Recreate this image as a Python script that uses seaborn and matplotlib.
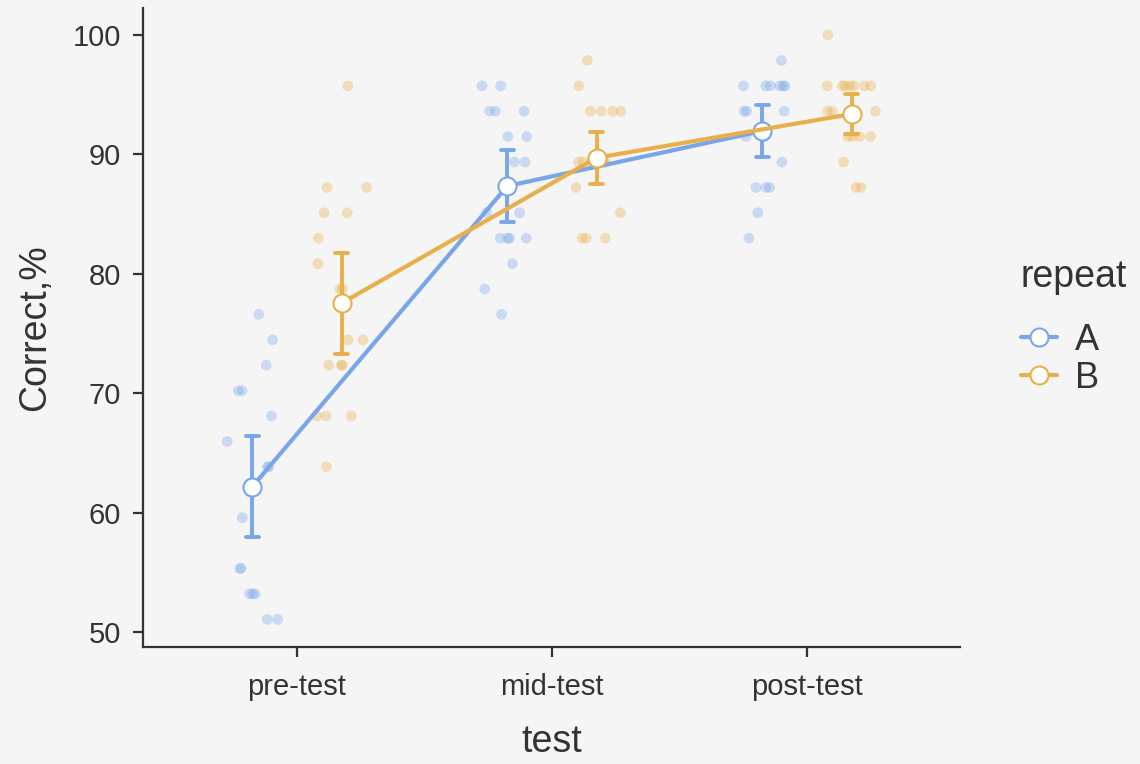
import numpy as np
import pandas as pd
import matplotlib
matplotlib.use('Agg')
import matplotlib.pyplot as plt
from matplotlib.lines import Line2D
import seaborn as sns

tests = ['pre-test', 'mid-test', 'post-test']
repeats = ['A', 'B']

# scores (k/47 items, in %)
pre_a = [76.60, 74.47, 72.34, 70.21, 70.21, 68.09, 65.96, 63.83, 63.83,
         61.70, 59.57, 55.32, 55.32, 53.19, 53.19, 53.19, 51.06, 51.06]
pre_b = [95.74, 87.23, 87.23, 85.11, 85.11, 82.98, 80.85, 78.72, 78.72,
         74.47, 74.47, 72.34, 72.34, 72.34, 68.09, 68.09, 68.09, 63.83]
mid_a = [95.74, 95.74, 93.62, 93.62, 93.62, 91.49, 91.49, 89.36, 89.36,
         85.11, 85.11, 82.98, 82.98, 82.98, 82.98, 80.85, 78.72, 76.60]
mid_b = [97.87, 95.74, 93.62, 93.62, 93.62, 93.62, 89.36, 89.36, 89.36,
         89.36, 89.36, 89.36, 89.36, 87.23, 85.11, 82.98, 82.98, 82.98]
post_a = [97.87, 95.74, 95.74, 95.74, 95.74, 95.74, 95.74, 93.62, 93.62,
          93.62, 91.49, 91.49, 89.36, 87.23, 87.23, 87.23, 85.11, 82.98]
post_b = [100.0, 95.74, 95.74, 95.74, 95.74, 95.74, 95.74, 95.74, 93.62,
          93.62, 93.62, 91.49, 91.49, 91.49, 91.49, 89.36, 87.23, 87.23]

groups = [('pre-test', 'A', pre_a), ('pre-test', 'B', pre_b),
          ('mid-test', 'A', mid_a), ('mid-test', 'B', mid_b),
          ('post-test', 'A', post_a), ('post-test', 'B', post_b)]
rows = []
for test, rep, vals in groups:
    for v in vals:
        rows.append((test, rep, v))
df = pd.DataFrame(rows, columns=['test', 'repeat', 'correct'])

palette = {'A': '#79a6ea', 'B': '#e8b04b'}
bg = '#f5f5f5'
ink = '#333333'
dodge = 0.35

# dodged + jittered positions for the raw points
rng = np.random.default_rng(7)
offset = {'A': -dodge / 2, 'B': dodge / 2}
df['xpos'] = (df['test'].map({t: i for i, t in enumerate(tests)})
              + df['repeat'].map(offset)
              + rng.uniform(-0.1, 0.1, len(df)))

sns.set_style('ticks')
plt.rcParams['font.family'] = ['Liberation Sans', 'DejaVu Sans']
plt.rcParams['text.color'] = ink
plt.rcParams['axes.labelcolor'] = ink
plt.rcParams['xtick.color'] = ink
plt.rcParams['ytick.color'] = ink

fig, ax = plt.subplots(figsize=(11.4, 7.64), dpi=100)
fig.patch.set_facecolor(bg)
ax.set_facecolor(bg)
fig.subplots_adjust(left=0.1254, right=0.842, bottom=0.1531, top=0.9895)

sns.pointplot(data=df, x='test', y='correct', hue='repeat', order=tests,
              hue_order=repeats, palette=palette, dodge=dodge,
              errorbar=('se', 2.11), capsize=0.05, markers='o',
              err_kws={'linewidth': 2.8}, legend=False, ax=ax)
# mean lines: thicker, white-filled markers on top
for ln in ax.lines:
    ln.set_zorder(3)
    if len(ln.get_xdata()) == len(tests):
        ln.set_marker('o')
        ln.set_markerfacecolor('white')
        ln.set_markeredgewidth(1.5)
        ln.set_markersize(13)
        ln.set_linewidth(3.0)
        ln.set_zorder(4)

sns.scatterplot(data=df, x='xpos', y='correct', hue='repeat', palette=palette,
                s=60, alpha=0.35, linewidth=0, legend=False, ax=ax, zorder=1)

ax.set_xlim(-0.604, 2.6)
ax.set_ylim(48.74, 102.26)
ax.set_xticks(range(len(tests)))
ax.set_xticklabels(tests)
ax.set_yticks([50, 60, 70, 80, 90, 100])
ax.tick_params(axis='both', labelsize=21, length=7, width=1.6, pad=9)
ax.tick_params(axis='x', pad=12)
ax.set_xlabel('test', fontsize=27, labelpad=16)
ax.set_ylabel('Correct,%', fontsize=27, labelpad=14)
sns.despine(ax=ax)
for side in ['left', 'bottom']:
    ax.spines[side].set_linewidth(1.6)
    ax.spines[side].set_color(ink)

handles = [Line2D([0], [0], color=palette[r], lw=3.0, marker='o', markersize=13,
                  markerfacecolor='white', markeredgewidth=1.5) for r in repeats]
leg = ax.legend(handles, repeats, title='repeat', loc='center left',
                bbox_to_anchor=(1.035, 0.5), frameon=False, fontsize=26,
                title_fontsize=27, handlelength=1.0, handletextpad=0.5,
                labelspacing=0.08)
leg._legend_box.align = 'left'
leg._legend_box.sep = 20

fig.savefig('out.png', dpi=100, facecolor=bg)
